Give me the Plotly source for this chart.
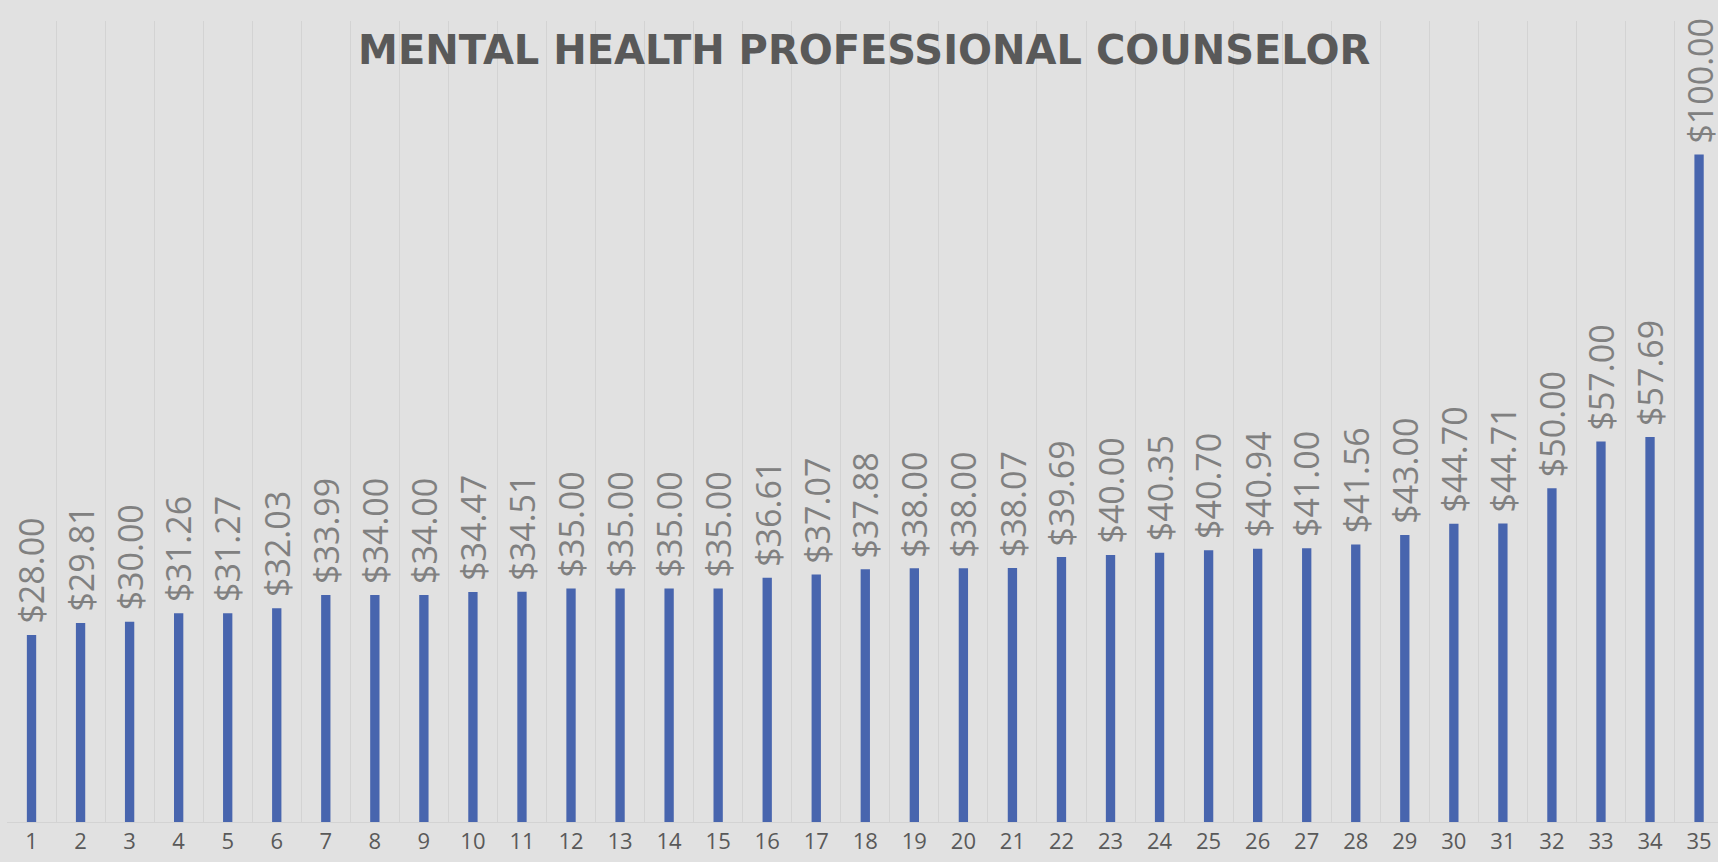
import plotly.graph_objects as go

categories = [str(i) for i in range(1, 36)]
rates = [28.00, 29.81, 30.00, 31.26, 31.27, 32.03, 33.99, 34.00, 34.00, 34.47,
         34.51, 35.00, 35.00, 35.00, 35.00, 36.61, 37.07, 37.88, 38.00, 38.00,
         38.07, 39.69, 40.00, 40.35, 40.70, 40.94, 41.00, 41.56, 43.00, 44.70,
         44.71, 50.00, 57.00, 57.69, 100.00]
title_text = "MENTAL HEALTH PROFESSIONAL COUNSELOR"

BG = "#E1E1E1"
BAR = "#4865AE"
LABEL = "#808080"

fig = go.Figure()
fig.add_trace(go.Bar(
    x=categories, y=rates, width=0.19,
    marker=dict(color=BAR, line=dict(width=0)),
    hoverinfo="x+y",
))

for i, v in enumerate(rates):
    fig.add_annotation(
        x=i, y=v, xref="x", yref="y",
        text=f"${v:.2f}", textangle=-90, showarrow=False,
        yanchor="bottom", xanchor="center", yshift=10, borderpad=0,
        font=dict(family="Open Sans", size=34, color=LABEL),
    )

fig.update_layout(
    width=1718, height=862,
    paper_bgcolor=BG, plot_bgcolor=BG,
    margin=dict(l=7, r=0, t=21, b=40),
    showlegend=False,
    title=dict(
        text=title_text, x=0.503, xanchor="center",
        y=1 - 50 / 862, yanchor="middle", yref="container",
        font=dict(family="DejaVu Sans", size=40, color="#595959", weight="bold"),
    ),
    xaxis=dict(
        type="category", range=[-0.5, 34.386],
        tickson="boundaries", showgrid=True, gridcolor="#D3D3D3", gridwidth=1,
        ticks="", showline=True, linecolor="#D3D3D3", linewidth=1,
        tickfont=dict(family="Open Sans", size=22, color="#595959"),
        zeroline=False,
    ),
    yaxis=dict(
        range=[0, 120], showgrid=False, showticklabels=False,
        zeroline=False, showline=False, ticks="",
    ),
)

fig.write_html(
    "out.html",
    config={"displayModeBar": False},
    post_script="document.body.style.margin='0';document.body.style.overflow='hidden';document.body.style.background='" + BG + "';",
)
